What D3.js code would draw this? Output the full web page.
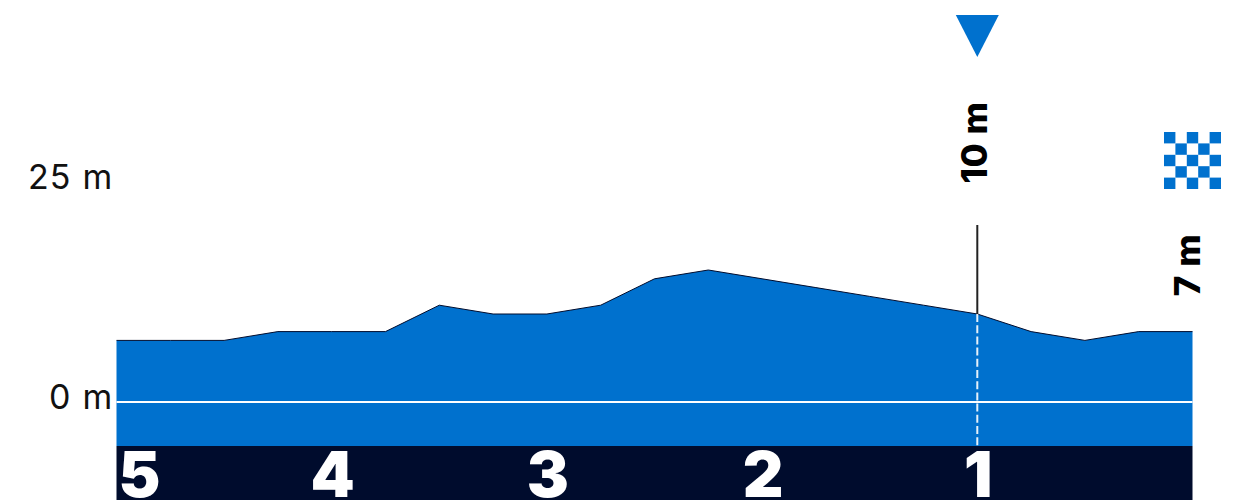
<!DOCTYPE html>
<html>
<head>
<meta charset="utf-8">
<script src="https://cdn.jsdelivr.net/npm/d3@7"></script>
<style>
  html, body { margin: 0; padding: 0; background: #fff; }
  svg { display: block; }
  text { font-family: Inter, "Noto Sans", sans-serif; }
</style>
</head>
<body>
<svg></svg>
<script>
// km to the finish, one point every 250 m
let distances = [5, 4.75, 4.5, 4.25, 4, 3.75, 3.5, 3.25, 3, 2.75, 2.5, 2.25, 2, 1.75, 1.5, 1.25, 1, 0.75, 0.5, 0.25, 0]
let elevations = [7, 7, 7, 8, 8, 8, 11, 10, 10, 11, 14, 15, 14, 13, 12, 11, 10, 8, 7, 8, 8]

let kmLabels = [5, 4, 3, 2, 1]
let yTicks = [0, 25]

// the marked climb and the finish
let climbKm = [1]
let climbElevation = [10]
let finishElevation = [7]

let width = 1256
let height = 500
let left = 116.5
let right = 1192.5

let blue = '#0071ce'
let navy = '#000c2d'

let svg = d3.select('svg').attr('width', width).attr('height', height)

let xScale = d3.scaleLinear().domain([5, 0]).range([left, right])
let yScale = d3.scaleLinear().domain([0, 25]).range([402, 182])

let bandTop = 446

// area under the profile
let area = d3.area()
  .x((d, i) => xScale(distances[i]))
  .y0(bandTop)
  .y1((d) => yScale(d))

let line = d3.line()
  .x((d, i) => xScale(distances[i]))
  .y((d) => yScale(d))

svg.append('path').attr('d', area(elevations)).attr('fill', blue)
svg.append('path').attr('d', line(elevations)).attr('fill', 'none').attr('stroke', navy).attr('stroke-width', 1)

// zero line
svg.append('line')
  .attr('x1', left).attr('x2', right)
  .attr('y1', yScale(0)).attr('y2', yScale(0))
  .attr('stroke', '#fff').attr('stroke-width', 2)

// dark band with the km labels
svg.append('rect')
  .attr('x', left).attr('y', bandTop)
  .attr('width', right - left).attr('height', height - bandTop)
  .attr('fill', navy)

svg.selectAll('.km')
  .data(kmLabels)
  .enter()
  .append('text')
  .attr('class', 'km')
  .attr('x', (d) => d === 5 ? left + 2 : xScale(d) + 1)
  .attr('y', 497)
  .attr('text-anchor', (d) => d === 5 ? 'start' : 'middle')
  .attr('fill', '#fff')
  .attr('font-size', 63)
  .attr('font-weight', 900)
  .text((d) => d)

// y axis labels only, no domain or tick marks
let yAxis = d3.axisLeft(yScale)
  .tickValues(yTicks)
  .tickSize(0)
  .tickPadding(3)
  .tickFormat((d) => d + ' m')

let yGroup = svg.append('g')
  .attr('transform', 'translate(' + left + ', 0)')
  .call(yAxis)
yGroup.select('.domain').remove()
yGroup.selectAll('text')
  .attr('font-size', 34)
  .attr('fill', '#111')
  .attr('dy', '0.18em')
  .style('letter-spacing', '1.2px')
  .style('font-family', 'Inter, "Noto Sans", sans-serif')

// climb marker
let cx = xScale(climbKm[0])
let cy = yScale(climbElevation[0])

svg.append('line')
  .attr('x1', cx).attr('x2', cx)
  .attr('y1', 225).attr('y2', cy)
  .attr('stroke', '#222').attr('stroke-width', 2)

svg.append('line')
  .attr('x1', cx).attr('x2', cx)
  .attr('y1', cy).attr('y2', bandTop)
  .attr('stroke', '#fff').attr('stroke-width', 2)
  .attr('stroke-dasharray', '8 3.2')
  .attr('opacity', 0.9)

svg.append('path')
  .attr('d', 'M' + (cx - 21.5) + ',15 L' + (cx + 21.5) + ',15 L' + cx + ',57 Z')
  .attr('fill', blue)

svg.append('text')
  .attr('transform', 'translate(' + (cx + 9.5) + ', 142.5) rotate(-90)')
  .attr('text-anchor', 'middle')
  .attr('font-size', 35)
  .attr('font-weight', 800)
  .style('letter-spacing', '0.6px')
  .text(climbElevation[0] + ' m')

// finish flag
let cells = d3.range(25).filter((i) => i % 2 === 0)
let cell = 11.4

svg.selectAll('.flag')
  .data(cells)
  .enter()
  .append('rect')
  .attr('class', 'flag')
  .attr('x', (d) => 1164 + (d % 5) * cell)
  .attr('y', (d) => 132 + Math.floor(d / 5) * cell)
  .attr('width', cell)
  .attr('height', cell)
  .attr('fill', blue)

svg.append('text')
  .attr('transform', 'translate(1200, 265) rotate(-90)')
  .attr('text-anchor', 'middle')
  .attr('font-size', 35)
  .attr('font-weight', 800)
  .style('letter-spacing', '0.6px')
  .text(finishElevation[0] + ' m')
</script>
</body>
</html>
